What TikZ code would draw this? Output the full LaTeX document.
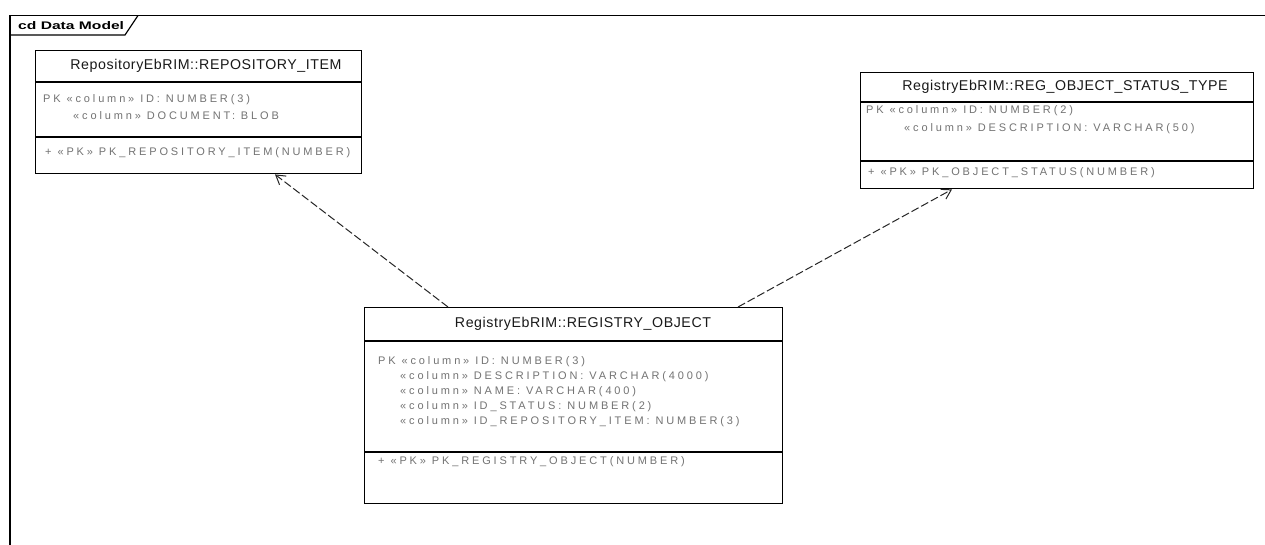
\documentclass[tikz,border=0pt]{standalone}
\usepackage{fontspec}
\setmainfont{Liberation Sans}
\usetikzlibrary{arrows.meta}
\tikzset{
  umlbox/.style={draw=black, line width=1.4pt, fill=white, anchor=north west, inner sep=0pt},
  sepline/.style={line width=1.2pt},
  titletext/.style={font=\fontsize{14.2}{16}\selectfont\addfontfeature{LetterSpace=4}, text=black!90, inner sep=0pt},
  attrtext/.style={font=\fontsize{11}{12}\selectfont\addfontfeature{LetterSpace=26}, text=black!55, inner sep=0pt, anchor=west},
  dep/.style={draw=black!85, line width=1pt, dash pattern=on 8pt off 3pt, -{Straight Barb[length=9pt,width=11pt]}},
  frameline/.style={line width=1.2pt},
  tabtext/.style={font=\bfseries\fontsize{11}{12}\selectfont, inner sep=0pt, anchor=west},
}
\begin{document}
\begin{tikzpicture}[x=1pt,y=-1pt]
\useasboundingbox (0,0) rectangle (1265,545);
\fill[white] (0,0) rectangle (1265,545);
% frame
\draw[frameline] (1266,15.5) -- (10,15.5) -- (10,546);
\draw[frameline] (10,35) -- (125,35) -- (138,15.5);
\node[tabtext] (tab) at (18,25.5) {\scalebox{1.42}[1]{cd Data Model}};

% REPOSITORY_ITEM
\node[umlbox, minimum width=326pt, minimum height=123pt] (ri) at (35,50) {};
\draw[sepline] ([yshift=-32pt]ri.north west) -- ([yshift=-32pt]ri.north east);
\draw[sepline] ([yshift=-87pt]ri.north west) -- ([yshift=-87pt]ri.north east);
\node[titletext] (rit) at ([xshift=171pt,yshift=-16pt]ri.north west) {RepositoryEbRIM::REPOSITORY\_ITEM};
\node[attrtext] (ria1) at ([xshift=8pt,yshift=-50pt]ri.north west) {PK «column» ID: NUMBER(3)};
\node[attrtext] (ria2) at ([xshift=38pt,yshift=-66pt]ri.north west) {«column» DOCUMENT: BLOB};
\node[attrtext] (rio1) at ([xshift=10pt,yshift=-103pt]ri.north west) {+ «PK» PK\_REPOSITORY\_ITEM(NUMBER)};

% REG_OBJECT_STATUS_TYPE
\node[umlbox, minimum width=393pt, minimum height=116pt] (rs) at (860,72) {};
\draw[sepline] ([yshift=-30pt]rs.north west) -- ([yshift=-30pt]rs.north east);
\draw[sepline] ([yshift=-89pt]rs.north west) -- ([yshift=-89pt]rs.north east);
\node[titletext] (rst) at ([xshift=205pt,yshift=-15pt]rs.north west) {RegistryEbRIM::REG\_OBJECT\_STATUS\_TYPE};
\node[attrtext] (rsa1) at ([xshift=6pt,yshift=-39pt]rs.north west) {PK «column» ID: NUMBER(2)};
\node[attrtext] (rsa2) at ([xshift=44pt,yshift=-57pt]rs.north west) {«column» DESCRIPTION: VARCHAR(50)};
\node[attrtext] (rso1) at ([xshift=8pt,yshift=-101pt]rs.north west) {+ «PK» PK\_OBJECT\_STATUS(NUMBER)};

% REGISTRY_OBJECT
\node[umlbox, minimum width=418pt, minimum height=196pt] (ro) at (364,307) {};
\draw[sepline] ([yshift=-34pt]ro.north west) -- ([yshift=-34pt]ro.north east);
\draw[sepline] ([yshift=-145pt]ro.north west) -- ([yshift=-145pt]ro.north east);
\node[titletext] (rot) at ([xshift=219pt,yshift=-17pt]ro.north west) {RegistryEbRIM::REGISTRY\_OBJECT};
\node[attrtext] (roa1) at ([xshift=14pt,yshift=-55pt]ro.north west) {PK «column» ID: NUMBER(3)};
\node[attrtext] (roa2) at ([xshift=36pt,yshift=-70pt]ro.north west) {«column» DESCRIPTION: VARCHAR(4000)};
\node[attrtext] (roa3) at ([xshift=36pt,yshift=-85pt]ro.north west) {«column» NAME: VARCHAR(400)};
\node[attrtext] (roa4) at ([xshift=36pt,yshift=-100pt]ro.north west) {«column» ID\_STATUS: NUMBER(2)};
\node[attrtext] (roa5) at ([xshift=36pt,yshift=-115pt]ro.north west) {«column» ID\_REPOSITORY\_ITEM: NUMBER(3)};
\node[attrtext] (roo1) at ([xshift=14pt,yshift=-155pt]ro.north west) {+ «PK» PK\_REGISTRY\_OBJECT(NUMBER)};

% dependencies
\draw[dep] ([xshift=84pt]ro.north west) -- ([xshift=240pt]ri.south west);
\draw[dep] ([xshift=374pt]ro.north west) -- ([xshift=92pt]rs.south west);
\end{tikzpicture}
\end{document}
